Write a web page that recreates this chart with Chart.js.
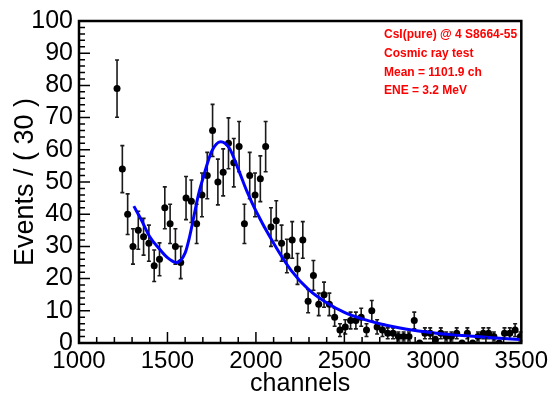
<!DOCTYPE html>
<html>
<head>
<meta charset="utf-8">
<script src="https://cdn.jsdelivr.net/npm/chart.js@4.4.1/dist/chart.umd.min.js"></script>
<style>
  html, body { margin: 0; padding: 0; background: #fff; }
</style>
</head>
<body>
<canvas id="spectrum" width="552" height="400"></canvas>
<script>
// bin centres (channels), 30-channel bins
const binCenters = [
  1215, 1245, 1275, 1305, 1335, 1365, 1395, 1425, 1455, 1485,
  1515, 1545, 1575, 1605, 1635, 1665, 1695, 1725, 1755, 1785,
  1815, 1845, 1875, 1905, 1935, 1965, 1995, 2025, 2055, 2085,
  2115, 2145, 2175, 2205, 2235, 2265, 2295, 2325, 2355, 2385,
  2415, 2445, 2475, 2505, 2535, 2565, 2595, 2625, 2655, 2685,
  2715, 2745, 2775, 2805, 2835, 2865, 2895, 2925, 2955, 2985,
  3015, 3045, 3075, 3105, 3135, 3165, 3195, 3225, 3255, 3285,
  3315, 3345, 3375, 3405, 3435, 3465, 3495
];
const counts = [
  79, 54, 40, 30, 35, 33, 31, 24, 26, 42,
  37, 30, 25, 45, 44, 37, 46, 52, 66, 50,
  53, 62, 56, 61, 37, 52, 46, 51, 61, 36,
  38, 31, 27, 32, 23, 32, 13, 21, 12, 15,
  12, 8, 4, 5, 7, 7, 8, 4, 10, 5,
  4, 3, 3, 2, 2, 2, 7, 0, 3, 3,
  1, 3, 2, 2, 3, 0, 3, 0, 2, 3,
  3, 2, 0, 3, 3, 4, 2
];
const errors = [
  8.9, 7.3, 6.3, 5.5, 5.9, 5.7, 5.6, 4.9, 5.1, 6.5,
  6.1, 5.5, 5.0, 6.7, 6.6, 6.1, 6.8, 7.2, 8.1, 7.1,
  7.3, 7.9, 7.5, 7.8, 6.1, 7.2, 6.8, 7.1, 7.8, 6.0,
  6.2, 5.6, 5.2, 5.7, 4.8, 5.7, 3.6, 4.6, 3.5, 3.9,
  3.5, 2.8, 2.0, 2.2, 2.6, 2.6, 2.8, 2.0, 3.2, 2.2,
  2.0, 1.7, 1.7, 1.4, 1.4, 1.4, 2.6, 0, 1.7, 1.7,
  1.0, 1.7, 1.4, 1.4, 1.7, 0, 1.7, 0, 1.4, 1.7,
  1.7, 1.4, 0, 1.7, 1.7, 2.0, 1.4
];

// fitted curve
const fitX = [1310, 1350, 1400, 1450, 1500, 1550, 1600, 1625, 1650, 1675, 1700, 1750, 1800, 1850,
  1900, 1950, 2000, 2100, 2200, 2300, 2400, 2500, 2600, 2700, 2800, 2900, 3000, 3100, 3200, 3300, 3400, 3500];
const fitY = [42.5, 38.5, 33, 29.5, 26.5, 25, 28, 33, 39.5, 46, 51, 59.5, 62.5, 60.5,
  54, 47, 41, 31, 22.5, 16.5, 12.5, 9.5, 7.5, 6, 4.8, 3.9, 3.2, 2.6, 2.2, 1.8, 1.4, 1.1];

const xTicks = [1000, 1500, 2000, 2500, 3000, 3500];
const yTicks = [0, 10, 20, 30, 40, 50, 60, 70, 80, 90, 100];
const infoLines = ['CsI(pure) @ 4 S8664-55', 'Cosmic ray test', 'Mean = 1101.9 ch', 'ENE = 3.2 MeV'];

const FONT = '"Liberation Sans", Arial, Helvetica, sans-serif';

const rootStyle = {
  id: 'rootStyle',
  beforeDatasetsDraw(chart) {
    const { ctx, scales: { x, y } } = chart;
    ctx.save();
    ctx.strokeStyle = '#1a1a1a';
    ctx.lineWidth = 1.6;
    binCenters.forEach((c, i) => {
      if (!errors[i]) return;
      const px = x.getPixelForValue(c);
      const top = y.getPixelForValue(counts[i] + errors[i]);
      const bot = y.getPixelForValue(counts[i] - errors[i]);
      ctx.beginPath();
      ctx.moveTo(px, top); ctx.lineTo(px, bot);
      ctx.moveTo(px - 2, top); ctx.lineTo(px + 2, top);
      ctx.moveTo(px - 2, bot); ctx.lineTo(px + 2, bot);
      ctx.stroke();
    });
    ctx.restore();
  },
  afterDraw(chart) {
    const { ctx, chartArea: a, scales: { x, y } } = chart;
    ctx.save();
    // ticks drawn inside the frame
    ctx.strokeStyle = '#000';
    ctx.lineWidth = 1.5;
    ctx.beginPath();
    for (let v = 1000; v <= 3500; v += 100) {
      const px = x.getPixelForValue(v);
      const len = v % 500 === 0 ? 11 : 6;
      ctx.moveTo(px, a.bottom); ctx.lineTo(px, a.bottom - len);
    }
    for (let v = 0; v <= 100; v += 2) {
      const py = y.getPixelForValue(v);
      const len = v % 10 === 0 ? 11 : 6;
      ctx.moveTo(a.left, py); ctx.lineTo(a.left + len, py);
    }
    ctx.stroke();
    // frame
    ctx.lineWidth = 2.5;
    ctx.strokeRect(a.left, a.top, a.right - a.left, a.bottom - a.top);
    // info text
    ctx.fillStyle = '#ff0000';
    ctx.font = 'bold 12px ' + FONT;
    ctx.textBaseline = 'middle';
    ctx.textAlign = 'left';
    infoLines.forEach((t, i) => ctx.fillText(t, 384, 35 + i * 18.7));
    ctx.restore();
  }
};

const ctx = document.getElementById('spectrum').getContext('2d');

new Chart(ctx, {
  type: 'scatter',
  data: {
    datasets: [
      {
        type: 'line',
        data: fitX.map((v, i) => ({ x: v, y: fitY[i] })),
        borderColor: '#0000ff',
        borderWidth: 3,
        pointRadius: 0,
        cubicInterpolationMode: 'monotone',
        fill: false,
        order: 0
      },
      {
        data: binCenters.map((v, i) => ({ x: v, y: counts[i] })),
        backgroundColor: '#000',
        borderColor: '#000',
        borderWidth: 0,
        pointRadius: 3.5,
        order: 1
      }
    ]
  },
  options: {
    responsive: false,
    animation: false,
    layout: { padding: { top: 17, right: 30, left: 0, bottom: 0 } },
    plugins: { legend: { display: false }, tooltip: { enabled: false } },
    scales: {
      x: {
        type: 'linear',
        min: 1000,
        max: 3500,
        afterBuildTicks: s => { s.ticks = xTicks.map(v => ({ value: v })); },
        afterFit: s => { s.height = 57; },
        grid: { display: false, drawTicks: false },
        border: { display: false },
        ticks: {
          padding: 4,
          maxRotation: 0,
          autoSkip: false,
          color: '#000',
          font: { family: FONT, size: 24 },
          callback: v => String(v)
        },
        title: {
          display: true,
          text: 'channels',
          color: '#000',
          font: { family: FONT, size: 25, lineHeight: 1 },
          padding: { top: 0, bottom: 3 }
        }
      },
      y: {
        min: 0,
        max: 100,
        afterBuildTicks: s => { s.ticks = yTicks.map(v => ({ value: v })); },
        afterFit: s => { s.width = 79; },
        grid: { display: false, drawTicks: false },
        border: { display: false },
        ticks: {
          padding: 6,
          autoSkip: false,
          color: '#000',
          font: { family: FONT, size: 25 },
          callback: v => String(v)
        },
        title: {
          display: true,
          text: 'Events / ( 30 )',
          color: '#000',
          font: { family: FONT, size: 27, lineHeight: 1 },
          padding: { top: 12, bottom: 0 }
        }
      }
    }
  },
  plugins: [rootStyle]
});
</script>
</body>
</html>
